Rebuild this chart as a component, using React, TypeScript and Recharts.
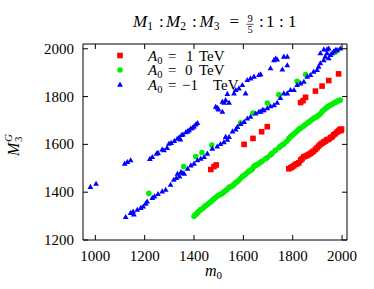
import React from 'react';
import { ScatterChart, Scatter, XAxis, YAxis, Customized } from 'recharts';

const xTicks = [1000, 1200, 1400, 1600, 1800, 2000];
const yTicks = [1200, 1400, 1600, 1800, 2000];
const xDomain = [950, 2020];
const yDomain = [1200, 2020];

// A0 = 1 TeV (red squares)
const a0Plus1: [number, number][] = [
  [1468, 1495], [1481, 1507], [1490, 1514], [1603, 1600], [1639, 1625], [1674, 1653], [1697, 1674],
  [1832, 1775], [1842, 1783], [1852, 1797], [1892, 1823], [1919, 1844], [1946, 1867], [1986, 1895],
  [1784, 1498], [1792, 1502], [1798, 1506], [1804, 1510], [1811, 1516], [1818, 1519], [1825, 1523],
  [1832, 1534], [1838, 1540], [1845, 1548], [1852, 1551], [1859, 1554], [1865, 1558], [1872, 1562],
  [1878, 1567], [1885, 1572], [1892, 1579], [1899, 1586], [1905, 1593], [1912, 1600], [1919, 1605],
  [1926, 1610], [1933, 1614], [1939, 1620], [1946, 1621], [1953, 1628], [1960, 1632], [1966, 1640],
  [1973, 1645], [1980, 1652], [1986, 1656], [1990, 1660], [1993, 1663], [1996, 1658], [1998, 1664],
];

// A0 = 0 TeV (green circles)
const a0Zero: [number, number][] = [
  [1217, 1395], [1358, 1507], [1407, 1549], [1432, 1566], [1472, 1597], [1589, 1690], [1639, 1731],
  [1697, 1773], [1744, 1808], [1818, 1864], [1852, 1892], [1973, 1987], [1980, 1994],
  [1400, 1299], [1405, 1305], [1410, 1310], [1414, 1314], [1420, 1320], [1427, 1327], [1434, 1331],
  [1441, 1338], [1447, 1343], [1454, 1348], [1461, 1355], [1468, 1360], [1474, 1366], [1481, 1372],
  [1488, 1378], [1494, 1383], [1500, 1387], [1507, 1391], [1514, 1395], [1521, 1401], [1528, 1407],
  [1535, 1412], [1542, 1420], [1549, 1423], [1556, 1427], [1562, 1433], [1569, 1440], [1576, 1445],
  [1582, 1451], [1589, 1458], [1596, 1466], [1603, 1470], [1609, 1475], [1616, 1482], [1623, 1488],
  [1630, 1492], [1636, 1497], [1643, 1508], [1650, 1512], [1656, 1516], [1663, 1520], [1670, 1525],
  [1677, 1530], [1690, 1540], [1697, 1545], [1710, 1556], [1717, 1564], [1730, 1575], [1744, 1586],
  [1751, 1593], [1758, 1598], [1764, 1602], [1775, 1612], [1784, 1624], [1791, 1632], [1798, 1638],
  [1804, 1643], [1811, 1650], [1818, 1656], [1825, 1663], [1832, 1668], [1842, 1675], [1850, 1682],
  [1859, 1688], [1865, 1693], [1872, 1699], [1879, 1704], [1885, 1709], [1892, 1713], [1899, 1717],
  [1905, 1722], [1912, 1728], [1919, 1737], [1926, 1744], [1933, 1750], [1939, 1755], [1946, 1760],
  [1953, 1765], [1960, 1768], [1966, 1772], [1973, 1776], [1980, 1779], [1986, 1783], [1993, 1786],
];

// A0 = -1 TeV (blue triangles)
const a0Minus1: [number, number][] = [
  [980, 1423], [1003, 1436], [1119, 1520], [1130, 1527], [1143, 1534], [1221, 1540], [1231, 1548],
  [1248, 1562], [1254, 1565], [1271, 1579], [1278, 1576], [1291, 1586], [1298, 1603], [1307, 1607],
  [1320, 1615], [1332, 1624], [1340, 1630], [1345, 1621], [1350, 1640], [1355, 1642], [1367, 1652],
  [1374, 1655], [1380, 1660], [1387, 1667], [1394, 1670], [1400, 1676], [1407, 1684], [1414, 1690],
  [1488, 1758], [1495, 1754], [1499, 1747], [1515, 1737], [1515, 1779], [1522, 1775], [1528, 1786],
  [1535, 1812], [1542, 1775], [1562, 1814], [1569, 1828], [1582, 1835], [1596, 1849], [1609, 1814],
  [1616, 1870], [1629, 1877], [1643, 1884], [1663, 1891], [1670, 1894], [1710, 1919], [1724, 1953],
  [1731, 1960], [1737, 1956], [1758, 1914], [1764, 1968], [1778, 1968], [1778, 1932],
  [1123, 1297], [1143, 1314], [1153, 1320], [1156, 1307], [1170, 1327], [1184, 1335], [1194, 1341],
  [1204, 1353], [1210, 1362], [1231, 1377], [1240, 1383], [1254, 1393], [1271, 1404], [1285, 1411],
  [1305, 1432], [1318, 1453], [1328, 1460], [1341, 1467], [1355, 1481], [1333, 1478], [1347, 1485],
  [1360, 1478], [1374, 1499], [1387, 1513], [1400, 1520], [1414, 1534], [1427, 1541], [1441, 1548],
  [1454, 1562], [1474, 1583], [1494, 1592], [1507, 1602], [1521, 1610], [1535, 1620], [1542, 1632],
  [1528, 1632], [1556, 1655], [1569, 1663], [1576, 1674], [1589, 1686], [1603, 1695], [1616, 1709],
  [1629, 1716], [1650, 1730], [1663, 1737], [1670, 1737], [1677, 1744], [1683, 1744], [1697, 1752],
  [1710, 1760], [1724, 1765], [1737, 1775], [1750, 1795], [1764, 1814], [1778, 1814], [1791, 1828],
  [1805, 1828], [1818, 1849], [1832, 1856], [1845, 1863], [1859, 1884], [1872, 1891], [1885, 1905],
  [1899, 1912], [1905, 1926], [1912, 1940], [1912, 1982], [1926, 1953], [1926, 1998], [1932, 1968],
  [1939, 1982], [1939, 1998], [1946, 1961], [1946, 2002], [1953, 1975], [1960, 1982], [1966, 1989],
  [1973, 1995], [1980, 1995], [1993, 2002],
];

const toRows = (pts: [number, number][]) => pts.map(([x, y]) => ({ x, y }));

const FONT = "'Liberation Serif', 'Times New Roman', serif";
const RED = '#ff0000';
const GREEN = '#00f000';
const BLUE = '#0000ff';

const Square = (p: any) => <rect x={p.cx - 2.8} y={p.cy - 2.8} width={5.6} height={5.6} fill={RED} />;
const Circle = (p: any) => <circle cx={p.cx} cy={p.cy} r={2.8} fill={GREEN} />;
const Triangle = (p: any) => (
  <polygon points={`${p.cx - 2.9},${p.cy + 2.2} ${p.cx + 2.9},${p.cy + 2.2} ${p.cx},${p.cy - 2.9}`} fill={BLUE} />
);

const BottomTick = (props: any) => {
  const { x, y, payload } = props;
  return (
    <g>
      <line x1={x} x2={x} y1={y} y2={y - 5} stroke="#000" strokeWidth={1} />
      <text x={x} y={y + 21} textAnchor="middle" fontFamily={FONT} fontSize={15} fill="#000">{payload.value}</text>
    </g>
  );
};
const TopTick = (props: any) => {
  const { x, y } = props;
  return <line x1={x} x2={x} y1={y} y2={y + 5} stroke="#000" strokeWidth={1} />;
};
const LeftTick = (props: any) => {
  const { x, y, payload } = props;
  return (
    <g>
      <line x1={x} x2={x + 5} y1={y} y2={y} stroke="#000" strokeWidth={1} />
      <text x={x - 9} y={y + 5} textAnchor="end" fontFamily={FONT} fontSize={15} fill="#000">{payload.value}</text>
    </g>
  );
};
const RightTick = (props: any) => {
  const { x, y } = props;
  return <line x1={x} x2={x - 5} y1={y} y2={y} stroke="#000" strokeWidth={1} />;
};

const legendItems = [
  { val: '1', shape: 'sq', y: 55.5, valX: 186, tevX: 199 },
  { val: '0', shape: 'ci', y: 70, valX: 185, tevX: 199 },
  { val: '\u22121', shape: 'tr', y: 84.5, valX: 182, tevX: 213 },
];

const Annotations = () => (
  <g fontFamily={FONT} fill="#000">
    {/* title */}
    <text y={27} fontSize={17}>
      <tspan x={133} fontStyle="italic">M</tspan>
      <tspan fontSize={11.5} dy={3}>1</tspan>
      <tspan x={159} dy={-3}>:</tspan>
      <tspan x={166} fontStyle="italic">M</tspan>
      <tspan fontSize={11.5} dy={3}>2</tspan>
      <tspan x={192} dy={-3}>:</tspan>
      <tspan x={199.5} fontStyle="italic">M</tspan>
      <tspan fontSize={11.5} dy={3}>3</tspan>
      <tspan x={229.5} dy={-3}>=</tspan>
      <tspan x={259}>:</tspan>
      <tspan x={266}>1</tspan>
      <tspan x={279}>:</tspan>
      <tspan x={288}>1</tspan>
    </text>
    <text x={250} y={22} fontSize={10.5} textAnchor="middle">9</text>
    <line x1={246.5} x2={253.5} y1={24.3} y2={24.3} stroke="#000" strokeWidth={0.7} />
    <text x={250} y={33} fontSize={10.5} textAnchor="middle">5</text>

    {/* legend */}
    {legendItems.map((it) => (
      <g key={it.val}>
        {it.shape === 'sq' && <Square cx={120} cy={it.y} />}
        {it.shape === 'ci' && <Circle cx={120} cy={it.y} />}
        {it.shape === 'tr' && <Triangle cx={120} cy={it.y} />}
        <text y={it.y + 5} fontSize={15}>
          <tspan x={148} fontStyle="italic">A</tspan>
          <tspan fontSize={10.5} dy={3}>0</tspan>
          <tspan x={168} dy={-3}>=</tspan>
          <tspan x={it.valX}>{it.val}</tspan>
          <tspan x={it.tevX}>TeV</tspan>
        </text>
      </g>
    ))}

    {/* x label */}
    <text y={276} fontSize={16}>
      <tspan x={205} fontStyle="italic">m</tspan>
      <tspan fontSize={11} dy={3}>0</tspan>
    </text>

    {/* y label */}
    <g transform="translate(18.5,156) rotate(-90)">
      <text x={0} y={0} fontSize={16} fontStyle="italic">M</text>
      <text x={14} y={-6.5} fontSize={11} fontStyle="italic">G</text>
      <text x={14} y={3} fontSize={11}>3</text>
    </g>
  </g>
);

export default function App() {
  return (
    <div style={{ position: 'absolute', left: 0, top: 0, width: 374, height: 289, background: '#fff' }}>
      <ScatterChart width={374} height={289} margin={{ top: 0, right: 0, bottom: 0, left: 0 }}>
        <XAxis
          xAxisId="bottom" orientation="bottom" dataKey="x" type="number" domain={xDomain} ticks={xTicks}
          allowDataOverflow interval={0} height={49} tickSize={0} tickMargin={0} tickLine={false}
          tick={BottomTick} axisLine={{ stroke: '#000', strokeWidth: 1 }}
        />
        <XAxis
          xAxisId="top" orientation="top" dataKey="x" type="number" domain={xDomain} ticks={xTicks}
          allowDataOverflow interval={0} height={44} tickSize={0} tickMargin={0} tickLine={false}
          tick={TopTick} axisLine={{ stroke: '#000', strokeWidth: 1 }}
        />
        <YAxis
          yAxisId="left" orientation="left" dataKey="y" type="number" domain={yDomain} ticks={yTicks}
          allowDataOverflow interval={0} width={83} tickSize={0} tickMargin={0} tickLine={false}
          tick={LeftTick} axisLine={{ stroke: '#000', strokeWidth: 1 }}
        />
        <YAxis
          yAxisId="right" orientation="right" dataKey="y" type="number" domain={yDomain} ticks={yTicks}
          allowDataOverflow interval={0} width={27} tickSize={0} tickMargin={0} tickLine={false}
          tick={RightTick} axisLine={{ stroke: '#000', strokeWidth: 1 }}
        />
        <Scatter name="A0 = 1 TeV" data={toRows(a0Plus1)} xAxisId="bottom" yAxisId="left" shape={Square} isAnimationActive={false} />
        <Scatter name="A0 = 0 TeV" data={toRows(a0Zero)} xAxisId="bottom" yAxisId="left" shape={Circle} isAnimationActive={false} />
        <Scatter name="A0 = -1 TeV" data={toRows(a0Minus1)} xAxisId="bottom" yAxisId="left" shape={Triangle} isAnimationActive={false} />
        <Customized component={Annotations} />
      </ScatterChart>
    </div>
  );
}
